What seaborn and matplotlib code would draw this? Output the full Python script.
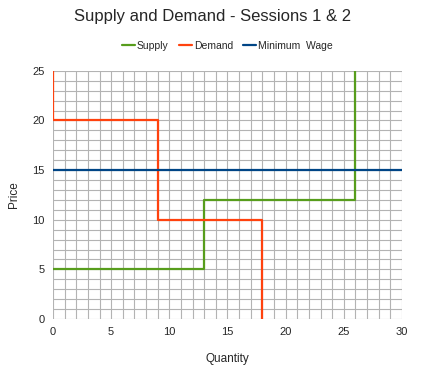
import pandas as pd
import matplotlib.pyplot as plt
import seaborn as sns
from matplotlib.ticker import MultipleLocator

supply_q = [0, 13, 13, 26, 26]
supply_p = [5, 5, 12, 12, 25]
demand_q = [0, 0, 9, 9, 18, 18]
demand_p = [25, 20, 20, 10, 10, 0]
wage_q = [0, 30]
wage_p = [15, 15]

series = ['Supply', 'Demand', 'Minimum  Wage']
colors = ['#579d1c', '#ff420e', '#004586']

df = pd.concat([
    pd.DataFrame({'Quantity': supply_q, 'Price': supply_p, 'series': series[0]}),
    pd.DataFrame({'Quantity': demand_q, 'Price': demand_p, 'series': series[1]}),
    pd.DataFrame({'Quantity': wage_q, 'Price': wage_p, 'series': series[2]}),
], ignore_index=True)

sns.set_style('white')
plt.rcParams['font.family'] = ['Liberation Sans', 'DejaVu Sans']

fig = plt.figure(figsize=(4.25, 3.72), dpi=100)
ax = fig.add_axes([0.1247, 0.1425, 0.821, 0.667])

# grid every unit, labels every 5
ax.xaxis.set_major_locator(MultipleLocator(5))
ax.xaxis.set_minor_locator(MultipleLocator(1))
ax.yaxis.set_major_locator(MultipleLocator(5))
ax.yaxis.set_minor_locator(MultipleLocator(1))
ax.grid(which='both', color='#b3b3b3', linewidth=0.8)
ax.set_axisbelow(True)

sns.lineplot(data=df, x='Quantity', y='Price', hue='series', hue_order=series,
             palette=colors, sort=False, estimator=None, linewidth=1.6, ax=ax)

ax.set_xlim(0, 30)
ax.set_ylim(0, 25)
for s in ax.spines.values():
    s.set_visible(False)
ax.tick_params(which='both', direction='out', length=3, color='#b3b3b3', width=0.8,
               labelsize=8, pad=3)
ax.set_xlabel('Quantity', fontsize=8.5, labelpad=11)
ax.set_ylabel('Price', fontsize=8.5, labelpad=9)

fig.suptitle('Supply and Demand - Sessions 1 & 2', fontsize=12, y=0.975)
ax.legend(loc='upper center', bbox_to_anchor=(0.5, 1.16), ncol=3, frameon=False,
          fontsize=7.5, handlelength=1.2, handletextpad=0.2, columnspacing=1.0)

plt.savefig('out.png', dpi=100)
